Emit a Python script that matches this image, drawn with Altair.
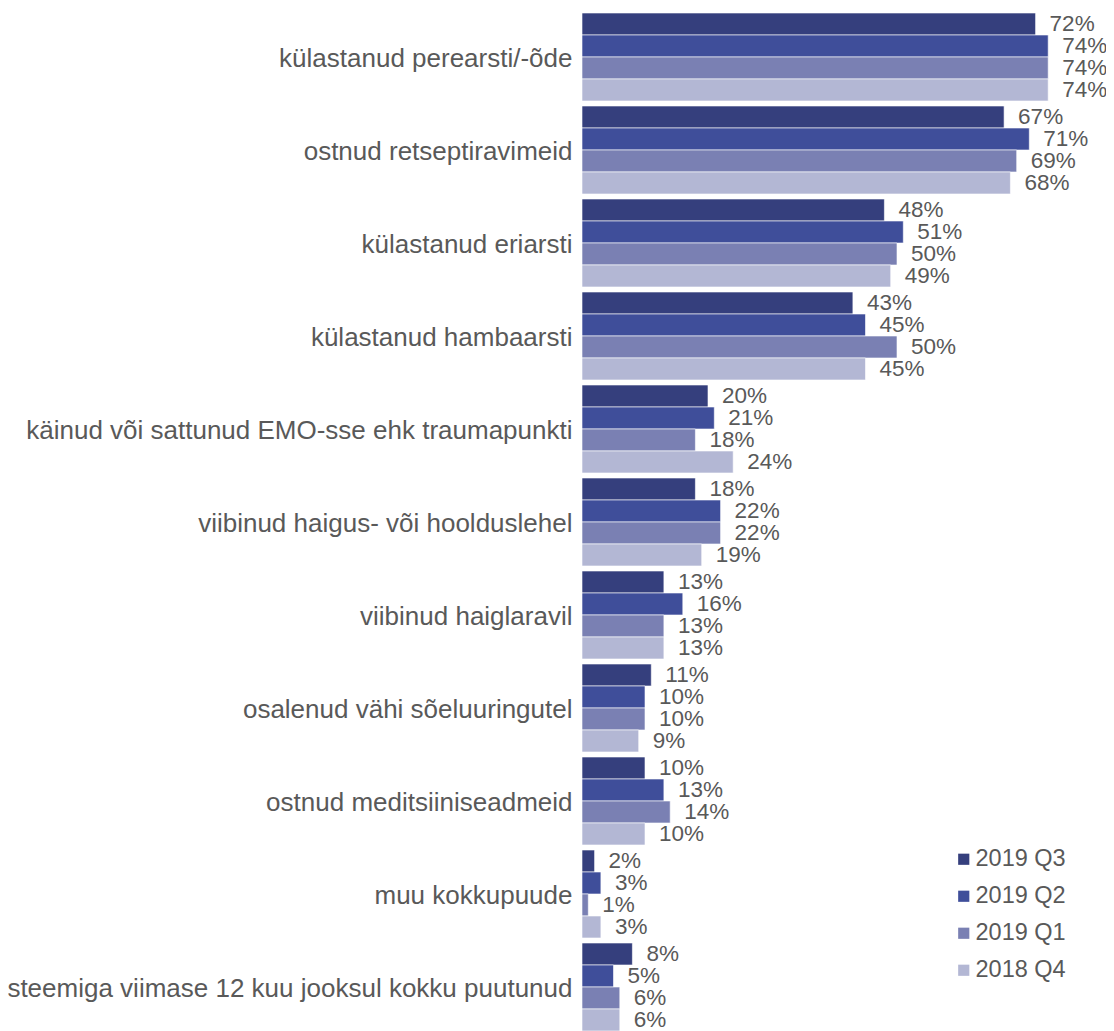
import altair as alt
import pandas as pd

categories = [
    "külastanud perearsti/-õde",
    "ostnud retseptiravimeid",
    "külastanud eriarsti",
    "külastanud hambaarsti",
    "käinud või sattunud EMO-sse ehk traumapunkti",
    "viibinud haigus- või hoolduslehel",
    "viibinud haiglaravil",
    "osalenud vähi sõeluuringutel",
    "ostnud meditsiiniseadmeid",
    "muu kokkupuude",
    "ei ole tervishoiusüsteemiga viimase 12 kuu jooksul kokku puutunud",
]
series = ["2019 Q3", "2019 Q2", "2019 Q1", "2018 Q4"]
q3_2019 = [72, 67, 48, 43, 20, 18, 13, 11, 10, 2, 8]
q2_2019 = [74, 71, 51, 45, 21, 22, 16, 10, 13, 3, 5]
q1_2019 = [74, 69, 50, 50, 18, 22, 13, 10, 14, 1, 6]
q4_2018 = [74, 68, 49, 45, 24, 19, 13, 9, 10, 3, 6]
colors = ["#353F7D", "#3F4E9A", "#7A80B3", "#B3B7D4"]

rows = []
for s, vals in zip(series, [q3_2019, q2_2019, q1_2019, q4_2018]):
    for c, v in zip(categories, vals):
        rows.append({"category": c, "series": s, "value": v, "label": f"{v}%"})
df = pd.DataFrame(rows)

font = "Liberation Sans"
gray = "#595959"

y = alt.Y("category:N", sort=categories, title=None,
          scale=alt.Scale(paddingInner=0.054, paddingOuter=0.027),
          axis=alt.Axis(ticks=False, domain=False, labelFontSize=26, labelColor=gray,
                        labelFont=font, labelPadding=10, labelLimit=1500, labelOffset=2))
x = alt.X("value:Q", axis=None, scale=alt.Scale(domain=[0, 80]))
yoff = alt.YOffset("series:N", sort=series, scale=alt.Scale(paddingInner=0, paddingOuter=0))

base = alt.Chart(df).encode(y=y, yOffset=yoff)

bars = base.mark_bar(stroke="#ffffff", strokeWidth=0.6).encode(
    x=x,
    color=alt.Color("series:N", sort=series,
                    scale=alt.Scale(domain=series, range=colors),
                    legend=alt.Legend(title=None, orient="none", legendX=370, legendY=837,
                                      symbolType="square", symbolSize=125, symbolStrokeWidth=0,
                                      labelFontSize=23.5, labelColor=gray, labelFont=font,
                                      labelOffset=0, rowPadding=12)),
)

text = base.mark_text(align="left", baseline="middle", dx=14, fontSize=22.5,
                      color=gray, font=font).encode(x=x, text="label:N")

chart = (bars + text).properties(
    width=504, height=1023,
    autosize=alt.AutoSizeParams(type="none"),
    padding={"left": 574, "top": 2.5, "right": 20, "bottom": 0},
).configure_view(stroke=None)

chart.save("out.html", embed_options={"renderer": "svg", "actions": False})
